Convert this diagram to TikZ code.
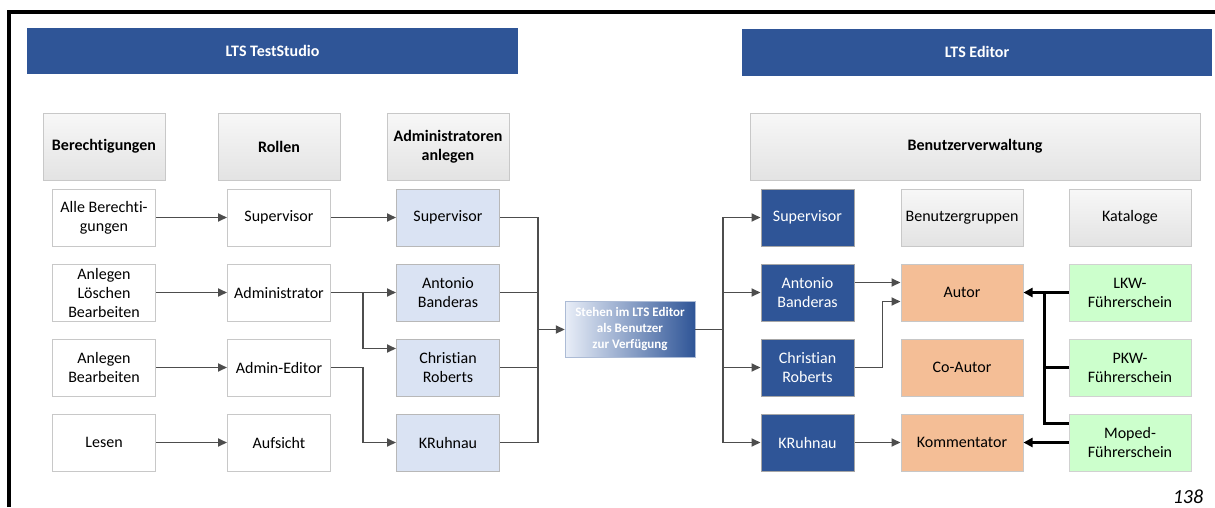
\documentclass[tikz,border=0pt]{standalone}
\usepackage{fontspec}
\setmainfont[Ligatures=NoCommon]{Carlito}
\usetikzlibrary{positioning, arrows.meta, calc}
\definecolor{ltsblue}{RGB}{47,85,151}
\definecolor{ltslight}{RGB}{218,227,243}
\definecolor{ltsborder}{RGB}{200,200,200}
\definecolor{ltsorange}{RGB}{244,190,150}
\definecolor{ltsgreen}{RGB}{204,255,204}
\definecolor{ltsline}{RGB}{77,77,77}

\begin{document}
\begin{tikzpicture}
  [
    x=1pt, y=-1pt,
    on grid,
    node distance=75pt and 170pt,
    font=\fontsize{16}{19}\selectfont,
    box/.style={draw=ltsborder, fill=white, rectangle, align=center, minimum height=57pt, minimum width=103pt, inner sep=2pt, line width=1pt},
    headbox/.style={box, top color=black!3, bottom color=black!11, minimum height=67pt, minimum width=122pt, font=\fontsize{16}{19}\selectfont\bfseries},
    subhead/.style={box, top color=black!3, bottom color=black!11, minimum width=122pt},
    adminbox/.style={box, fill=ltslight, draw=black!28},
    userbox/.style={box, fill=ltsblue, draw=black!35, text=white, minimum width=93pt},
    groupbox/.style={box, fill=ltsorange, draw=black!22, minimum width=122pt},
    katbox/.style={box, fill=ltsgreen, draw=black!18, minimum width=122pt},
    titlebar/.style={rectangle, fill=ltsblue, text=white, minimum height=46pt, font=\fontsize{16}{19}\selectfont\bfseries},
    midbox/.style={rectangle, left color=ltslight!60!white, right color=ltsblue, draw=ltsblue!40, align=center, text=white, minimum width=130pt, minimum height=56pt, inner sep=1pt, font=\fontsize{13}{16}\selectfont\bfseries},
    line/.style={ltsline, line width=1.8pt},
    link/.style={line, -{Triangle[length=9pt, width=8pt]}},
    catline/.style={black, line width=2.2pt},
    catlink/.style={catline, -{Triangle[length=9pt, width=9pt]}}
  ]
    \useasboundingbox (0,0) rectangle (1215,507);
    % =========================================================================
    % FRAME AND TITLES
    % =========================================================================
    \draw [line width=3.5pt] (9,507) -- (9,12) -- (1215,12);
    \node [titlebar, minimum width=491pt] (tstudio) at (272.5,51) {LTS TestStudio};
    \node [titlebar, minimum width=470pt, minimum height=47pt] (teditor) at (977,52) {LTS Editor};

    % =========================================================================
    % NODES -- LTS TestStudio
    % =========================================================================
    \node [box] (ber1) at (104,217.5) {Alle Berechti-\\gungen};
    \node [box, below=of ber1] (ber2) {Anlegen\\Löschen\\Bearbeiten};
    \node [box, below=of ber2] (ber3) {Anlegen\\Bearbeiten};
    \node [box, below=of ber3] (ber4) {Lesen};

    \node [box, right=175pt of ber1] (rol1) {Supervisor};
    \node [box, below=of rol1] (rol2) {Administrator};
    \node [box, below=of rol2] (rol3) {Admin-Editor};
    \node [box, below=of rol3] (rol4) {Aufsicht};

    \node [adminbox, right=169pt of rol1] (adm1) {Supervisor};
    \node [adminbox, below=of adm1] (adm2) {Antonio\\Banderas};
    \node [adminbox, below=of adm2] (adm3) {Christian\\Roberts};
    \node [adminbox, below=of adm3] (adm4) {KRuhnau};

    \node [headbox, above=71pt of ber1] (hber) {Berechtigungen};
    \node [headbox, above=71pt of rol1] (hrol) {Rollen};
    \node [headbox, above=71pt of adm1] (hadm) {Administratoren\\anlegen};

    \node [midbox] (avail) at (630,329.5) {Stehen im LTS Editor\\als Benutzer\\zur Verfügung};

    % =========================================================================
    % NODES -- LTS Editor
    % =========================================================================
    \node [userbox] (usr1) at (807.5,217.5) {Supervisor};
    \node [userbox, below=of usr1] (usr2) {Antonio\\Banderas};
    \node [userbox, below=of usr2] (usr3) {Christian\\Roberts};
    \node [userbox, below=of usr3] (usr4) {KRuhnau};

    \node [subhead, right=154.5pt of usr1] (hgrp) {Benutzergruppen};
    \node [groupbox, below=of hgrp] (autor) {Autor};
    \node [groupbox, below=of autor] (coautor) {Co-Autor};
    \node [groupbox, below=of coautor] (komm) {Kommentator};

    \node [subhead, right=168pt of hgrp] (hkat) {Kataloge};
    \node [katbox, below=of hkat] (lkw) {LKW-\\Führerschein};
    \node [katbox, below=of lkw] (pkw) {PKW-\\Führerschein};
    \node [katbox, below=of pkw] (moped) {Moped-\\Führerschein};

    \node [headbox, minimum width=450pt] (hbv) at (975,146.5) {Benutzerverwaltung};

    \node (page) at (1188,497) {\fontsize{20}{24}\selectfont\itshape 138};

    % =========================================================================
    % PATHS
    % =========================================================================
    % --- RECHTE -> ROLLEN ---
    \draw [link] (ber1) -- (rol1);
    \draw [link] (ber2) -- (rol2);
    \draw [link] (ber3) -- (rol3);
    \draw [link] (ber4) -- (rol4);
    % --- ROLLEN -> ADMINISTRATOREN ---
    \coordinate (split) at ($(rol2.east)+(32pt,0)$);
    \coordinate (adm3in) at ($(adm3.west)+(0,-19)$);
    \draw [link] (rol1) -- (adm1);
    \draw [link] (rol2) -- (adm2);
    \draw [link] (split) |- (adm3in);
    \draw [link] (rol3.east) -- (rol3.east -| split) |- (adm4.west);
    % --- SAMMELN ---
    \coordinate (collect) at ($(avail.west)+(-27pt,0)$);
    \draw [line] (adm1.east) -| (collect);
    \draw [line] (adm2.east) -- (adm2.east -| collect);
    \draw [line] (adm3.east) -- (adm3.east -| collect);
    \draw [line] (adm4.east) -| (collect);
    \draw [link] (collect) -- (avail);
    % --- VERTEILEN ---
    \coordinate (spread) at ($(avail.east)+(28pt,0)$);
    \draw [line] (avail) -- (spread);
    \draw [link] (spread) |- (usr1);
    \draw [link] (spread) |- (usr2);
    \draw [link] (spread) |- (usr3);
    \draw [link] (spread) |- (usr4);
    % --- BENUTZER -> GRUPPEN ---
    \coordinate (autorup) at ($(autor.west)+(0,-10)$);
    \coordinate (autorlo) at ($(autor.west)+(0,9)$);
    \draw [link] (usr2.east |- autorup) -- (autorup);
    \draw [link] (usr3.east) -- ++(28pt,0) |- (autorlo);
    \draw [link] (usr4) -- (komm);
    % --- KATALOGE -> GRUPPEN ---
    \coordinate (bus) at ($(lkw.west)+(-24pt,0)$);
    \coordinate (mopedup) at ($(moped.west)+(0,-19)$);
    \draw [catlink] (lkw) -- (autor);
    \draw [catline] (pkw.west) -- (pkw.west -| bus);
    \draw [catline] (mopedup) -| (bus);
    \draw [catlink] (moped) -- (komm);

\end{tikzpicture}
\end{document}
